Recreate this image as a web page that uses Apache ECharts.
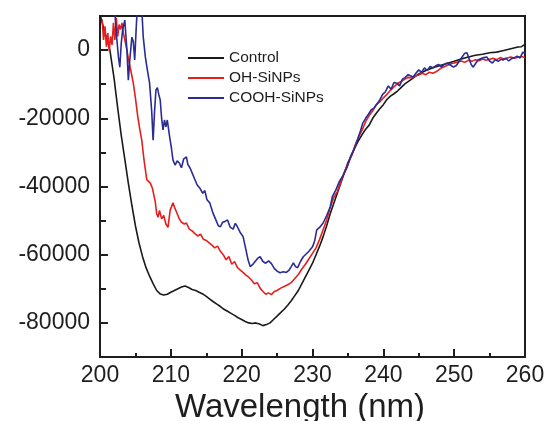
<!DOCTYPE html>
<html>
<head>
<meta charset="utf-8">
<script src="https://cdn.jsdelivr.net/npm/echarts@6/dist/echarts.min.js"></script>
<style>html,body{margin:0;padding:0;background:#fff}#c{width:547px;height:421px}</style>
</head>
<body>
<div id="c"></div>
<script>
var seriesNames = ['Control', 'OH-SiNPs', 'COOH-SiNPs'];
var xTicks = [200, 210, 220, 230, 240, 250, 260];
var yTickLabels = [0, -20000, -40000, -60000, -80000];

var control = [
[200.0,10500],[200.5,6500],[201.0,3000],[201.4,0],[202.0,-8500],[202.5,-17000],[203.0,-25000],[203.5,-32000],
[204.0,-39000],[204.5,-45500],[205.0,-51500],[205.5,-56500],[206.0,-60500],[206.5,-63800],[207.0,-66300],
[207.5,-68500],[208.0,-70500],[208.5,-71500],[209.0,-71800],[209.5,-71600],[210.0,-71000],[210.5,-70500],
[211.0,-70000],[211.5,-69500],[212.0,-69200],[212.5,-69600],[213.0,-70200],[213.5,-70500],[214.0,-71000],
[214.5,-71500],[215.0,-72200],[215.5,-73000],[216.0,-73800],[216.5,-74500],[217.0,-75200],[217.5,-76000],
[218.0,-76600],[218.5,-77200],[219.0,-77800],[219.5,-78500],[220.0,-79000],[220.5,-79600],[221.0,-80000],
[221.5,-80200],[222.0,-80000],[222.5,-80300],[223.0,-80800],[223.5,-80500],[224.0,-80000],[224.5,-79000],
[225.0,-78000],[225.5,-77000],[226.0,-76000],[226.5,-74800],[227.0,-73500],[227.5,-72000],[228.0,-70500],
[228.5,-68500],[229.0,-66500],[229.5,-64500],[230.0,-62500],[230.5,-60000],[231.0,-57500],[231.5,-54700],
[232.0,-51500],[232.5,-48000],[233.0,-45000],[233.5,-42000],[234.0,-39000],[234.5,-36000],[235.0,-33000],
[235.5,-31000],[236.0,-28500],[236.5,-26500],[237.0,-24800],[237.5,-23200],[238.0,-22000],[238.5,-20000],
[239.0,-18500],[239.5,-17200],[240.0,-16000],[240.5,-14500],[241.0,-13500],[241.5,-12800],[242.0,-12000],
[242.5,-11000],[243.0,-10000],[244.0,-8500],[245.0,-7000],[246.0,-6000],[247.0,-5200],[248.0,-4500],
[249.0,-3900],[250.0,-3300],[251.0,-2600],[252.0,-2000],[253.0,-1500],[254.0,-1200],[255.0,-800],
[256.0,-600],[257.0,-100],[258.0,400],[259.0,900],[259.5,1000],[260.0,1700]
];

var ohSiNPs = [
[200.3,9000],[200.5,3000],[200.7,7000],[200.9,1000],[201.1,5000],[201.3,-300],[201.5,4000],[201.7,1500],
[201.9,8000],[202.1,3000],[202.3,9500],[202.5,4000],[202.7,7500],[202.9,6000],[203.1,8000],[203.3,5000],
[203.5,3000],[203.8,0],[204.1,-3500],[204.4,-6500],[204.7,-9700],[205.0,-14000],[205.3,-19000],[205.6,-23000],
[205.9,-26500],[206.2,-32000],[206.6,-38000],[207.1,-39000],[207.4,-40500],[207.8,-44500],[208.0,-48000],
[208.2,-49000],[208.4,-47000],[208.7,-49500],[209.0,-48500],[209.3,-51000],[209.6,-52000],[209.9,-47000],
[210.3,-44800],[210.6,-46500],[210.9,-48000],[211.2,-49500],[211.5,-50500],[211.9,-51000],[212.2,-50700],
[212.6,-52500],[213.0,-53000],[213.4,-53800],[213.8,-54500],[214.2,-54000],[214.6,-55500],[215.0,-55800],
[215.4,-56500],[215.8,-57200],[216.2,-58000],[216.6,-57500],[217.0,-59000],[217.4,-60000],[217.8,-61500],
[218.2,-60500],[218.6,-62800],[219.0,-62000],[219.4,-63800],[219.8,-64500],[220.2,-65200],[220.6,-66000],
[221.0,-66600],[221.4,-67500],[221.8,-68500],[222.2,-68200],[222.6,-69800],[223.0,-70800],[223.4,-71600],
[223.8,-71200],[224.2,-71700],[224.6,-70800],[225.0,-70500],[225.5,-69800],[226.0,-69300],[226.5,-68800],
[227.0,-68200],[227.5,-67000],[228.0,-65800],[228.5,-64200],[229.0,-62800],[229.5,-61200],[230.0,-59600],
[230.5,-58000],[231.0,-55500],[231.5,-52700],[232.0,-49800],[232.5,-46200],[233.0,-43200],[233.5,-41500],
[234.0,-38500],[234.5,-35800],[235.0,-33500],[235.5,-31000],[236.0,-28000],[236.5,-25500],[237.0,-23500],
[237.5,-21000],[238.0,-19200],[238.5,-17800],[239.0,-16000],[239.5,-15200],[240.0,-14000],[240.5,-13000],
[241.0,-11800],[241.5,-10800],[242.0,-9800],[242.5,-9200],[243.0,-8600],[243.5,-8000],[244.0,-8200],
[244.5,-7600],[245.0,-7300],[245.5,-6800],[246.0,-7200],[246.5,-6500],[247.0,-6800],[247.5,-6300],
[248.0,-5500],[248.5,-5000],[249.0,-4500],[249.5,-4000],[250.0,-3800],[250.5,-3500],[251.0,-3200],
[251.5,-3600],[252.0,-3000],[252.5,-3300],[253.0,-2800],[253.5,-3100],[254.0,-2600],[254.5,-3000],
[255.0,-2700],[255.5,-2400],[256.0,-2800],[256.5,-2200],[257.0,-2600],[257.5,-2300],[258.0,-2000],
[258.5,-2400],[259.0,-2100],[259.5,-1900],[260.0,-2200]
];

var coohSiNPs = [
[202.0,14000],[202.3,5000],[202.6,-2000],[202.8,-5000],[203.0,2000],[203.2,6000],[203.5,8800],[203.8,0],
[204.0,-8800],[204.2,-3000],[204.5,3800],[204.7,2500],[204.9,-2900],[205.1,6000],[205.3,14000],[205.6,20000],
[205.9,12000],[206.1,4000],[206.4,-2000],[206.7,-6000],[207.0,-9700],[207.3,-18000],[207.5,-26400],
[207.7,-18000],[207.9,-11700],[208.1,-11000],[208.3,-13000],[208.5,-14600],[208.7,-20000],[208.9,-23400],
[209.1,-20500],[209.3,-22500],[209.5,-20500],[209.8,-25000],[210.1,-29000],[210.3,-32200],[210.6,-33700],
[210.9,-32500],[211.2,-33100],[211.5,-34500],[211.8,-32000],[212.2,-31300],[212.4,-33500],[212.7,-34500],
[213.0,-36000],[213.3,-37500],[213.7,-39500],[214.1,-40500],[214.5,-42000],[214.8,-41200],[215.1,-43900],
[215.5,-44800],[215.9,-47500],[216.3,-49500],[216.7,-51500],[217.0,-51800],[217.3,-50500],[217.6,-50300],
[218.0,-49800],[218.4,-52000],[218.8,-52500],[219.1,-50800],[219.4,-51800],[219.8,-53500],[220.2,-54700],
[220.6,-58500],[220.9,-61500],[221.2,-63500],[221.5,-63000],[221.9,-62000],[222.3,-61000],[222.6,-60600],
[223.0,-62000],[223.4,-62500],[223.8,-61800],[224.2,-62600],[224.6,-64000],[225.0,-64800],[225.4,-65300],
[225.9,-65000],[226.3,-65200],[226.7,-64500],[227.0,-63500],[227.3,-62400],[227.6,-63500],[227.9,-63800],
[228.3,-62000],[228.7,-60600],[229.1,-59800],[229.5,-59000],[230.0,-57700],[230.3,-56000],[230.6,-52700],
[231.0,-52000],[231.5,-50700],[232.0,-48500],[232.5,-46000],[232.8,-43000],[233.3,-41000],[233.8,-38500],
[234.3,-36800],[234.9,-34300],[235.4,-31000],[235.9,-29000],[236.4,-26000],[236.8,-23500],[237.1,-21400],
[237.5,-20000],[237.9,-18800],[238.3,-17500],[238.7,-17000],[239.1,-15800],[239.5,-14600],[239.9,-13000],
[240.3,-12200],[240.7,-10500],[241.1,-11500],[241.5,-9500],[241.9,-9700],[242.3,-10500],[242.7,-8500],
[243.1,-8000],[243.5,-7200],[243.9,-7600],[244.2,-7900],[244.6,-6800],[245.0,-5800],[245.4,-6500],
[245.8,-5200],[246.2,-6000],[246.6,-4800],[247.0,-5200],[247.4,-4600],[247.8,-4200],[248.2,-5000],
[248.6,-4200],[249.0,-3800],[249.4,-4300],[249.9,-5000],[250.3,-4500],[250.8,-3000],[251.2,-1800],
[251.5,-900],[251.8,-800],[252.1,-2500],[252.4,-4200],[252.7,-5000],[253.0,-4000],[253.4,-2800],
[253.8,-2500],[254.2,-2200],[254.6,-2000],[255.0,-3200],[255.4,-3800],[255.8,-2800],[256.2,-3300],
[256.6,-2700],[256.9,-2900],[257.3,-2400],[257.7,-3200],[258.1,-2500],[258.5,-2200],[258.9,-1800],
[259.3,-2300],[259.7,-600],[260.0,-1000]
];

var colors = ['#1a1a1a', '#e4201f', '#2b2b95'];
var FONT = 'Liberation Sans, Arial, sans-serif';
var ink = '#1e1e1e';

var chart = echarts.init(document.getElementById('c'), null, {renderer: 'canvas'});
chart.setOption({
  animation: false,
  backgroundColor: '#fff',
  textStyle: {fontFamily: FONT},
  grid: [
    {left: 100, right: 22, top: 16, bottom: 64, outerBoundsMode: 'none', containLabel: false, show: true, borderColor: ink, borderWidth: 2, backgroundColor: 'transparent'},
    {left: 100, right: 22, top: 50.1, bottom: 98.1, outerBoundsMode: 'none', containLabel: false, show: false}
  ],
  legend: {
    orient: 'vertical', left: 188, top: 50, padding: 0, itemWidth: 36, itemHeight: 2, itemGap: 4,
    icon: 'rect',
    data: seriesNames,
    textStyle: {fontFamily: FONT, fontSize: 15.5, color: ink}
  },
  xAxis: [
    {
      gridIndex: 0, type: 'value', min: xTicks[0], max: xTicks[xTicks.length - 1], interval: 10,
      axisLine: {show: true, onZero: false, lineStyle: {color: ink, width: 2}},
      axisTick: {show: true, inside: true, length: 8, lineStyle: {color: ink, width: 2}},
      minorTick: {show: true, splitNumber: 2, length: 4, lineStyle: {color: ink, width: 2}},
      splitLine: {show: false},
      axisLabel: {fontFamily: FONT, fontSize: 23, color: ink, margin: 7, formatter: function (v) { return String(v); }},
      name: 'Wavelength (nm)', nameLocation: 'middle', nameGap: 33,
      nameTextStyle: {fontFamily: FONT, fontSize: 33, color: ink, padding: [0, 25, 0, 0]}
    },
    {gridIndex: 1, type: 'value', min: 200, max: 260, show: false}
  ],
  yAxis: [
    {
      gridIndex: 0, type: 'value', min: -90000, max: 10000, interval: 10000,
      axisLine: {show: true, onZero: false, lineStyle: {color: ink, width: 2}},
      axisTick: {show: true, inside: true, length: 6, lineStyle: {color: ink, width: 2}},
      axisLabel: {show: false},
      splitLine: {show: false}
    },
    {
      gridIndex: 1, type: 'value', min: yTickLabels[yTickLabels.length - 1], max: yTickLabels[0], interval: 20000,
      axisLine: {show: false, onZero: false},
      axisTick: {show: true, inside: true, length: 8, lineStyle: {color: ink, width: 2}},
      axisLabel: {fontFamily: FONT, fontSize: 23, color: ink, margin: 10, formatter: function (v) { return String(v); }},
      splitLine: {show: false}
    }
  ],
  series: [
    {name: seriesNames[0], type: 'line', data: control, symbol: 'none', color: colors[0], lineStyle: {width: 1.6}, clip: true, xAxisIndex: 0, yAxisIndex: 0},
    {name: seriesNames[1], type: 'line', data: ohSiNPs, symbol: 'none', color: colors[1], lineStyle: {width: 1.6}, clip: true, xAxisIndex: 0, yAxisIndex: 0},
    {name: seriesNames[2], type: 'line', data: coohSiNPs, symbol: 'none', color: colors[2], lineStyle: {width: 1.6}, clip: true, xAxisIndex: 0, yAxisIndex: 0}
  ]
});
</script>
</body>
</html>
